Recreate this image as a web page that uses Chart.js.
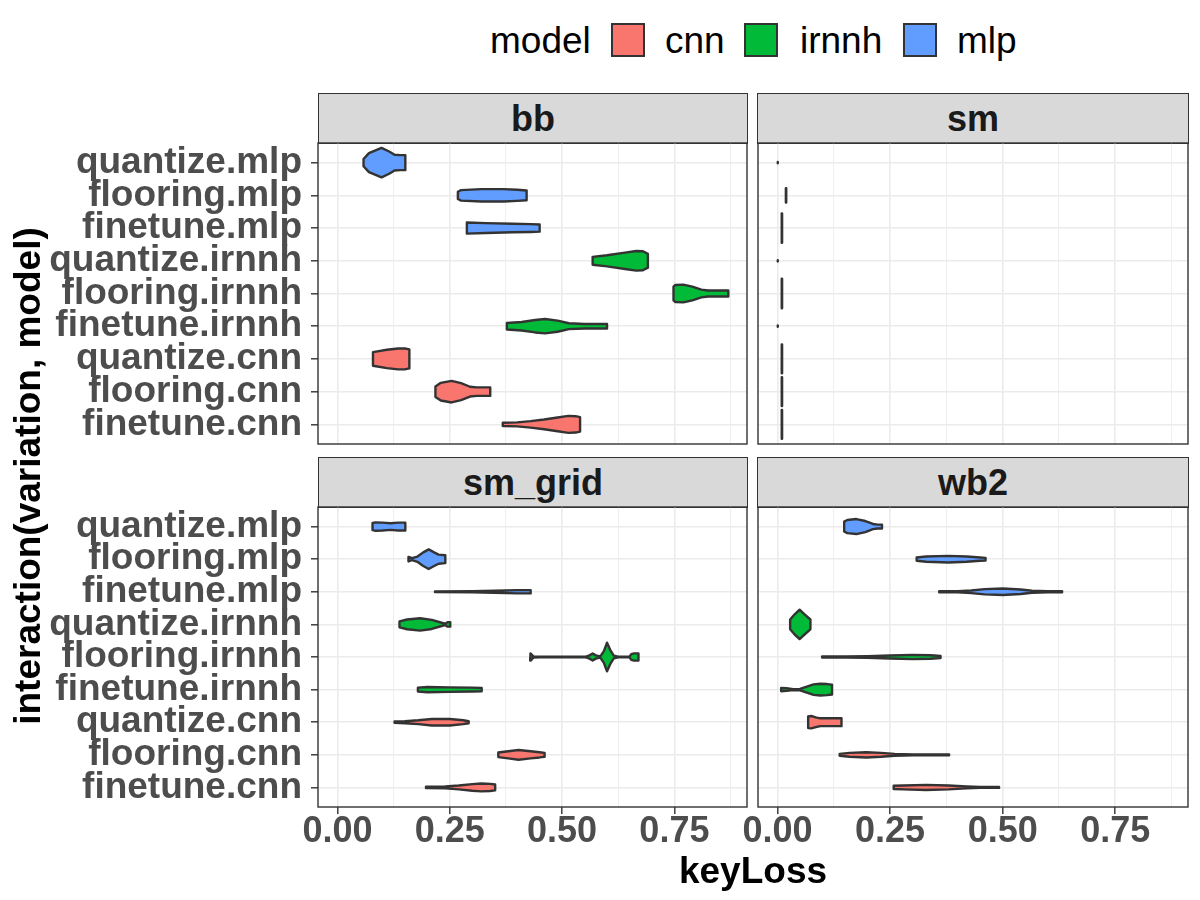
<!DOCTYPE html>
<html><head><meta charset="utf-8">
<script src="https://cdn.jsdelivr.net/npm/chart.js@4.4.1/dist/chart.umd.min.js"></script>
<style>
html,body{margin:0;padding:0;background:#fff;}
#page{position:relative;width:1200px;height:900px;overflow:hidden;font-family:"Liberation Sans",Arial,Helvetica,sans-serif;background:#fff;}
canvas{position:absolute;}
.strip{position:absolute;box-sizing:border-box;background:#D9D9D9;border:1.4px solid #333;color:#1A1A1A;font-weight:bold;font-size:36px;display:flex;align-items:center;justify-content:center;}
.lg{position:absolute;font-size:37px;color:#000;line-height:34px;white-space:nowrap;}
.key{position:absolute;box-sizing:border-box;width:34px;height:34px;border:2px solid #333;}
.title{position:absolute;font-weight:bold;font-size:37px;color:#000;text-align:center;line-height:40px;white-space:nowrap;}
</style></head>
<body><div id="page">
  <div class="lg" style="left:490px;top:24px">model</div>
  <div class="key" style="left:611px;top:23px;background:#F8766D"></div>
  <div class="lg" style="left:665px;top:24px">cnn</div>
  <div class="key" style="left:744px;top:23px;background:#00BA38"></div>
  <div class="lg" style="left:800px;top:24px">irnnh</div>
  <div class="key" style="left:903px;top:23px;background:#619CFF"></div>
  <div class="lg" style="left:957px;top:24px">mlp</div>

  <div class="strip" id="s0" style="left:318px;top:93px;width:430px;height:51px"></div>
  <div class="strip" id="s1" style="left:757px;top:93px;width:432px;height:51px"></div>
  <div class="strip" id="s2" style="left:318px;top:457px;width:430px;height:51px"></div>
  <div class="strip" id="s3" style="left:757px;top:457px;width:432px;height:51px"></div>

  <canvas id="c0" width="750" height="306" style="left:0px;top:140px"></canvas>
  <canvas id="c1" width="450" height="306" style="left:750px;top:140px"></canvas>
  <canvas id="c2" width="750" height="400" style="left:0px;top:500px"></canvas>
  <canvas id="c3" width="500" height="400" style="left:700px;top:500px"></canvas>

  <div class="title" style="left:453px;top:851px;width:600px">keyLoss</div>
  <div class="title" style="left:-272px;top:456px;width:600px;transform:rotate(-90deg)">interaction(variation, model)</div>
</div>
<script>
// ---------- data ----------
const categories = ['finetune.cnn','flooring.cnn','quantize.cnn','finetune.irnnh','flooring.irnnh','quantize.irnnh','finetune.mlp','flooring.mlp','quantize.mlp'];
const categoryModel = ['cnn','cnn','cnn','irnnh','irnnh','irnnh','mlp','mlp','mlp'];
const modelNames = ['cnn','irnnh','mlp'];
const panelNames = ['bb','sm','sm_grid','wb2'];
const xMajorTicks = [0, 0.25, 0.5, 0.75];
const xMajorLabels = ['0.00','0.25','0.50','0.75'];
const xMinorTicks = [0.125, 0.375, 0.625, 0.875];
const xRange = [-0.0434, 0.9116];
const yRange = [-0.6, 8.6];

// violin profiles: [keyLoss value, half width (category units)], one per category (bottom -> top)
const bbProfiles = [
  [[0.368,0.05],[0.40,0.06],[0.43,0.10],[0.46,0.15],[0.49,0.21],[0.514,0.26],[0.53,0.25],[0.540,0.22]],
  [[0.218,0.16],[0.23,0.27],[0.254,0.33],[0.275,0.26],[0.295,0.15],[0.31,0.13],[0.340,0.13]],
  [[0.079,0.21],[0.11,0.28],[0.135,0.32],[0.150,0.32],[0.160,0.29]],
  [[0.377,0.10],[0.41,0.13],[0.44,0.19],[0.462,0.22],[0.49,0.17],[0.515,0.09],[0.55,0.07],[0.600,0.07]],
  [[0.748,0.21],[0.752,0.26],[0.77,0.27],[0.79,0.21],[0.81,0.12],[0.825,0.09],[0.870,0.09]],
  [[0.568,0.12],[0.60,0.17],[0.64,0.25],[0.665,0.30],[0.68,0.29],[0.691,0.21]],
  [[0.288,0.17],[0.33,0.15],[0.39,0.13],[0.43,0.12],[0.450,0.11]],
  [[0.268,0.11],[0.275,0.16],[0.32,0.19],[0.37,0.19],[0.40,0.17],[0.421,0.15]],
  [[0.058,0.11],[0.070,0.29],[0.098,0.45],[0.115,0.34],[0.127,0.24],[0.140,0.23],[0.151,0.23]]
];
const smProfiles = [
  [[0.0093,0.44],[0.0101,0.44]],
  [[0.0093,0.44],[0.0101,0.44]],
  [[0.0093,0.44],[0.0101,0.44]],
  [[0.0003,0.02],[0.0009,0.02]],
  [[0.0093,0.45],[0.0101,0.45]],
  [[0.0003,0.02],[0.0009,0.02]],
  [[0.0093,0.45],[0.0101,0.45]],
  [[0.0185,0.22],[0.0193,0.22]],
  [[0.0003,0.02],[0.0009,0.02]]
];
const smGridProfiles = [
  [[0.197,0.02],[0.24,0.03],[0.27,0.06],[0.30,0.10],[0.32,0.12],[0.340,0.11],[0.351,0.09]],
  [[0.358,0.07],[0.38,0.11],[0.403,0.15],[0.43,0.11],[0.45,0.08],[0.461,0.06]],
  [[0.127,0.02],[0.15,0.03],[0.18,0.06],[0.21,0.10],[0.25,0.10],[0.28,0.06],[0.292,0.03]],
  [[0.179,0.06],[0.20,0.08],[0.25,0.07],[0.30,0.06],[0.321,0.05]],
  [[0.429,0.01],[0.430,0.11],[0.436,0.02],[0.45,0.01],[0.553,0.01],[0.561,0.05],[0.568,0.11],[0.575,0.05],[0.585,0.02],[0.593,0.18],[0.600,0.44],[0.607,0.22],[0.615,0.04],[0.625,0.01],[0.650,0.01],[0.654,0.09],[0.660,0.11],[0.670,0.11]],
  [[0.138,0.09],[0.155,0.15],[0.184,0.19],[0.21,0.14],[0.232,0.05],[0.240,0.02],[0.245,0.07],[0.251,0.07]],
  [[0.217,0.01],[0.30,0.015],[0.35,0.03],[0.40,0.05],[0.430,0.05]],
  [[0.158,0.07],[0.166,0.03],[0.178,0.08],[0.19,0.20],[0.203,0.30],[0.215,0.21],[0.225,0.14],[0.240,0.12]],
  [[0.078,0.11],[0.085,0.13],[0.10,0.12],[0.118,0.10],[0.135,0.12],[0.151,0.12]]
];
const wb2Profiles = [
  [[0.258,0.05],[0.28,0.06],[0.33,0.08],[0.38,0.06],[0.42,0.03],[0.45,0.015],[0.492,0.015]],
  [[0.138,0.03],[0.16,0.06],[0.197,0.08],[0.23,0.06],[0.26,0.03],[0.30,0.015],[0.381,0.015]],
  [[0.068,0.18],[0.075,0.19],[0.085,0.15],[0.095,0.12],[0.12,0.12],[0.142,0.12]],
  [[0.008,0.05],[0.02,0.04],[0.035,0.015],[0.05,0.02],[0.065,0.09],[0.08,0.16],[0.095,0.18],[0.11,0.17],[0.121,0.15]],
  [[0.099,0.015],[0.15,0.015],[0.20,0.025],[0.25,0.045],[0.30,0.065],[0.34,0.055],[0.362,0.03]],
  [[0.028,0.15],[0.038,0.31],[0.049,0.45],[0.060,0.31],[0.073,0.15]],
  [[0.359,0.015],[0.40,0.015],[0.43,0.04],[0.46,0.08],[0.50,0.10],[0.54,0.07],[0.565,0.03],[0.60,0.015],[0.632,0.015]],
  [[0.309,0.05],[0.33,0.08],[0.38,0.10],[0.42,0.08],[0.45,0.05],[0.462,0.04]],
  [[0.148,0.15],[0.155,0.20],[0.175,0.23],[0.195,0.17],[0.212,0.08],[0.222,0.06],[0.232,0.06]]
];

// ---------- styles ----------
const modelColors = {cnn:'#F8766D', irnnh:'#00BA38', mlp:'#619CFF'};
const FONT = '"Liberation Sans", Arial, Helvetica, sans-serif';
Chart.defaults.font.family = FONT;

panelNames.forEach((n,i)=>{ document.getElementById('s'+i).textContent = n; });

function violinPolygon(profile, c){
  const upper = profile.map(p => ({x:p[0], y:c + p[1]}));
  const lower = profile.slice().reverse().map(p => ({x:p[0], y:c - p[1]}));
  return [{x:profile[0][0], y:c}, ...upper, ...lower, {x:profile[0][0], y:c}];
}

const panelBorder = {
  id:'panelBorder',
  afterDatasetsDraw(chart){
    const {ctx, chartArea:a} = chart;
    ctx.save();
    ctx.strokeStyle = '#333333';
    ctx.lineWidth = 1.4;
    ctx.strokeRect(a.left, a.top, a.right - a.left, a.bottom - a.top);
    ctx.restore();
  }
};

const allXTicks = [...xMajorTicks, ...xMinorTicks].sort((a,b)=>a-b);
const isMajor = v => xMajorTicks.indexOf(v) >= 0;

function makeChart(id, profiles, o){
  const datasets = profiles.map((prof, i) => ({
    label: categories[i],
    data: violinPolygon(prof, i),
    showLine: true,
    fill: 'shape',
    backgroundColor: modelColors[categoryModel[i]],
    borderColor: '#333333',
    borderWidth: 2.4,
    borderJoinStyle: 'round',
    pointRadius: 0,
    pointHoverRadius: 0,
    tension: 0
  }));
  return new Chart(document.getElementById(id), {
    type: 'scatter',
    data: {datasets},
    options: {
      responsive: false,
      animation: false,
      events: [],
      layout: {padding: o.padding},
      plugins: {legend:{display:false}, tooltip:{enabled:false}},
      scales: {
        x: {
          type: 'linear', min: xRange[0], max: xRange[1],
          afterBuildTicks: s => { s.ticks = allXTicks.map(v => ({value:v})); },
          ticks: {
            display: o.showX, autoSkip: false, maxRotation: 0, minRotation: 0,
            font: {size: 36, weight: 'bold'}, color: '#4D4D4D', padding: o.xPad,
            callback: v => { const k = xMajorTicks.indexOf(v); return k >= 0 ? xMajorLabels[k] : ''; }
          },
          grid: {
            color: '#EBEBEB',
            lineWidth: c => (c.tick && isMajor(c.tick.value)) ? 1.6 : 0.8,
            drawTicks: o.showX, tickLength: 7, tickWidth: 1.4,
            tickColor: c => (c.tick && isMajor(c.tick.value)) ? '#333333' : 'rgba(0,0,0,0)'
          },
          border: {display: false},
          afterFit: s => { s.height = o.xHeight; s.paddingLeft = 0; s.paddingRight = 0; s.paddingTop = 0; s.paddingBottom = 0; }
        },
        y: {
          type: 'linear', min: yRange[0], max: yRange[1],
          afterBuildTicks: s => { s.ticks = categories.map((c,i) => ({value:i})); },
          ticks: {
            display: o.showY, autoSkip: false,
            font: {size: 37, weight: 'bold'}, color: '#4D4D4D', padding: 9,
            callback: v => categories[v]
          },
          grid: {color: '#EBEBEB', lineWidth: 1.6, drawTicks: o.showY, tickLength: 7, tickWidth: 1.4, tickColor: '#333333'},
          border: {display: false},
          afterFit: s => { s.width = o.yWidth; s.paddingTop = 0; s.paddingBottom = 0; s.paddingLeft = 0; s.paddingRight = 0; }
        }
      }
    },
    plugins: [panelBorder]
  });
}

makeChart('c0', bbProfiles,     {padding:{top:3,right:3,bottom:2,left:0},  showX:false, showY:true,  xHeight:0,  yWidth:318, xPad:0});
makeChart('c1', smProfiles,     {padding:{top:3,right:12,bottom:2,left:0}, showX:false, showY:false, xHeight:0,  yWidth:8,   xPad:0});
makeChart('c2', smGridProfiles, {padding:{top:7,right:3,bottom:0,left:0},  showX:true,  showY:true,  xHeight:93, yWidth:318, xPad:-4});
makeChart('c3', wb2Profiles,    {padding:{top:7,right:12,bottom:0,left:0}, showX:true,  showY:false, xHeight:93, yWidth:58,  xPad:-4});
</script>
</body></html>
